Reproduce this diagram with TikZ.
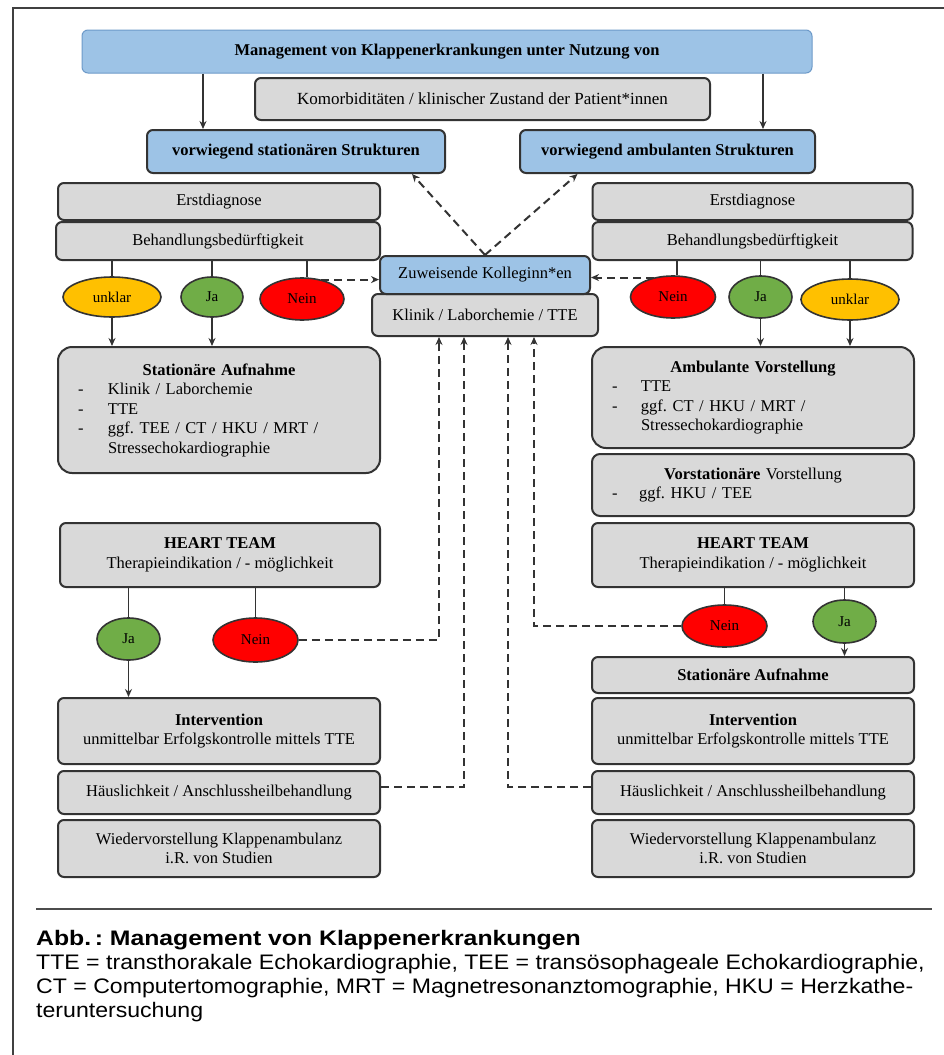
\documentclass[tikz,border=0pt]{standalone}
\usepackage{fontspec}
\setmainfont{Liberation Serif}
\newfontfamily\capfont[FakeStretch=1.1]{Liberation Sans}
\newfontfamily\capbold[FakeStretch=1.18]{Liberation Sans Bold}
\usetikzlibrary{shapes.geometric,arrows.meta}
\frenchspacing

\definecolor{boxgray}{HTML}{D9D9D9}
\definecolor{boxblue}{HTML}{9DC3E6}
\definecolor{ttlblue}{HTML}{6D9AC9}
\definecolor{linegray}{HTML}{333333}
\definecolor{ovyellow}{HTML}{FFC000}
\definecolor{ovgreen}{HTML}{70AD47}
\definecolor{ovred}{HTML}{FF0000}

\tikzset{
  gbox/.style={draw=linegray, line width=2pt, fill=boxgray, rounded corners=6pt,
    inner sep=0pt, align=center, font=\fontsize{16.5}{19.5}\selectfont},
  bbox/.style={gbox, fill=boxblue},
  lbox/.style={gbox, rounded corners=14pt, align=left, inner xsep=20pt, text width=282pt},
  oval/.style={ellipse, draw=linegray, line width=1.6pt, inner sep=0pt,
    font=\fontsize{15}{17}\selectfont},
  arr/.style={-{Stealth[length=8pt,width=7pt]}, line width=1.7pt, draw=linegray},
  dasharr/.style={arr, line width=2pt, dash pattern=on 8pt off 5pt},
  link/.style={line width=1.7pt, draw=linegray},
}

\begin{document}
\begin{tikzpicture}[x=1pt,y=-1pt]
\fill[white] (0,0) rectangle (944,1055);
\useasboundingbox (0,0) rectangle (944,1055);
\draw[line width=1.8pt, black!75] (13,1055) -- (13,8) -- (944,8);

% head
\node[bbox, draw=ttlblue, line width=1pt, minimum width=730, minimum height=43] (top) at (447,51.5)
  {\textbf{Management von Klappenerkrankungen unter Nutzung von}};
\node[gbox, minimum width=455, minimum height=42, font=\fontsize{17}{19.5}\selectfont] (komo) at (482.5,99)
  {Komorbiditäten / klinischer Zustand der Patient*innen};
\node[bbox, minimum width=298, minimum height=43] (stat) at (296,151.5)
  {\textbf{vorwiegend stationären Strukturen}};
\node[bbox, minimum width=295, minimum height=43] (amb) at (667.5,151.5)
  {\textbf{vorwiegend ambulanten Strukturen}};

% middle
\node[gbox, minimum width=226, minimum height=42] (klin) at (485,315) {Klinik / Laborchemie / TTE};
\node[bbox, minimum width=210, minimum height=38] (zuw) at (485,275) {Zuweisende Kolleginn*en};

% left column
\node[gbox, minimum width=322, minimum height=37] (erstL) at (219,201.5) {Erstdiagnose};
\node[gbox, minimum width=324, minimum height=38] (behL) at (218,241) {Behandlungsbedürftigkeit};
\node[oval, fill=ovyellow, minimum width=98, minimum height=40] (unklarL) at (112,297) {unklar};
\node[oval, fill=ovgreen, minimum width=62, minimum height=40] (jaL) at (212,297) {Ja};
\node[oval, fill=ovred, minimum width=84, minimum height=42] (neinL) at (302,299) {Nein};
\node[lbox, minimum height=126] (aufL) at (219,410)
  {\makebox[282pt]{\textbf{Stationäre Aufnahme}}\\
   \makebox[30pt][l]{-}Klinik / Laborchemie\\
   \makebox[30pt][l]{-}TTE\\
   \makebox[30pt][l]{-}ggf. TEE / CT / HKU / MRT /\\
   \hspace*{30pt}Stressechokardiographie};
\node[gbox, minimum width=320, minimum height=64] (htL) at (220,555)
  {\textbf{HEART TEAM}\\Therapieindikation / - möglichkeit};
\node[oval, fill=ovgreen, minimum width=63, minimum height=42] (jaL2) at (128.5,639) {Ja};
\node[oval, fill=ovred, minimum width=85, minimum height=44] (neinL2) at (255.5,640) {Nein};
\node[gbox, minimum width=322, minimum height=66] (intL) at (219,731)
  {\textbf{Intervention}\\unmittelbar Erfolgskontrolle mittels TTE};
\node[gbox, minimum width=322, minimum height=43] (hausL) at (219,792.5)
  {Häuslichkeit / Anschlussheilbehandlung};
\node[gbox, minimum width=322, minimum height=57] (wiedL) at (219,848.5)
  {Wiedervorstellung Klappenambulanz\\i.R. von Studien};

% right column
\node[gbox, minimum width=320, minimum height=37] (erstR) at (752.5,201.5) {Erstdiagnose};
\node[gbox, minimum width=320, minimum height=38] (behR) at (752.5,241) {Behandlungsbedürftigkeit};
\node[oval, fill=ovred, minimum width=85, minimum height=42] (neinR) at (673,297) {Nein};
\node[oval, fill=ovgreen, minimum width=63, minimum height=42] (jaR) at (760.5,297) {Ja};
\node[oval, fill=ovyellow, minimum width=98, minimum height=41] (unklarR) at (850,299.5) {unklar};
\node[lbox, minimum height=101] (ambV) at (753,397.5)
  {\makebox[282pt]{\textbf{Ambulante Vorstellung}}\\
   \makebox[29pt][l]{-}TTE\\
   \makebox[29pt][l]{-}ggf. CT / HKU / MRT /\\
   \hspace*{29pt}Stressechokardiographie};
\node[lbox, rounded corners=8pt, minimum height=62] (vorst) at (753,485)
  {\makebox[282pt]{\textbf{Vorstationäre} Vorstellung}\\
   \makebox[27pt][l]{-}ggf. HKU / TEE};
\node[gbox, minimum width=322, minimum height=64] (htR) at (753,555)
  {\textbf{HEART TEAM}\\Therapieindikation / - möglichkeit};
\node[oval, fill=ovred, minimum width=85, minimum height=42] (neinR2) at (724.5,626) {Nein};
\node[oval, fill=ovgreen, minimum width=63, minimum height=43] (jaR2) at (844.5,621.5) {Ja};
\node[gbox, minimum width=322, minimum height=36] (aufR) at (753,675) {\textbf{Stationäre Aufnahme}};
\node[gbox, minimum width=322, minimum height=66] (intR) at (753,731)
  {\textbf{Intervention}\\unmittelbar Erfolgskontrolle mittels TTE};
\node[gbox, minimum width=322, minimum height=43] (hausR) at (753,792.5)
  {Häuslichkeit / Anschlussheilbehandlung};
\node[gbox, minimum width=322, minimum height=57] (wiedR) at (753,848.5)
  {Wiedervorstellung Klappenambulanz\\i.R. von Studien};

% solid connectors
\draw[arr] ([xshift=-244pt]top.south) -- ([xshift=-244pt]top.south |- stat.north);
\draw[arr] ([xshift=316pt]top.south) -- ([xshift=316pt]top.south |- amb.north);
\draw[link] ([xshift=5pt]neinL.north) -- ([xshift=5pt]neinL.north |- behL.south);
\foreach \n in {unklarL,jaL} {
  \draw[link] (\n.north) -- (\n.north |- behL.south);
  \draw[arr] (\n.south) -- (\n.south |- aufL.north);
}
\draw[link] ([xshift=4pt]neinR.north) -- ([xshift=4pt]neinR.north |- behR.south);
\foreach \n in {jaR,unklarR} {
  \draw[link] (\n.north) -- (\n.north |- behR.south);
  \draw[arr] (\n.south) -- (\n.south |- ambV.north);
}
\draw[link] (jaL2.north) -- (jaL2.north |- htL.south);
\draw[link] (neinL2.north) -- (neinL2.north |- htL.south);
\draw[arr] (jaL2.south) -- (jaL2.south |- intL.north);
\draw[link] (neinR2.north) -- (neinR2.north |- htR.south);
\draw[link] (jaR2.north) -- (jaR2.north |- htR.south);
\draw[arr] (jaR2.south) -- (jaR2.south |- aufR.north);

% dashed connectors
\draw[dasharr] (zuw.north) -- ([xshift=116pt]stat.south);
\draw[dasharr] (zuw.north) -- ([xshift=-90pt]amb.south);
\draw[dasharr] (neinL.45) -- (neinL.45 -| zuw.west);
\draw[dasharr] (neinR.135) -- (neinR.135 -| zuw.east);
\draw[dasharr] (neinL2.east) -| ([xshift=-46pt]klin.south);
\draw[dasharr] ([yshift=6pt]hausL.east) -| ([xshift=-21pt]klin.south);
\draw[dasharr] ([yshift=6pt]hausR.west) -| ([xshift=23pt]klin.south);
\draw[dasharr] (neinR2.west) -| ([xshift=49pt]klin.south);

% caption
\draw[line width=1.5pt, black!70] (36,909) -- (932,909);
\node[anchor=base west, inner sep=0pt, font=\capbold\fontsize{21}{24}\selectfont] (abb) at (36,945)
  {Abb.\,: Management von Klappenerkrankungen};
\node[anchor=base west, inner sep=0pt, font=\capfont\fontsize{21}{24}\selectfont] (leg1) at (36,969)
  {TTE = transthorakale Echokardiographie, TEE = transösophageale Echokardiographie,};
\node[anchor=base west, inner sep=0pt, font=\capfont\fontsize{21}{24}\selectfont] (leg2) at (36,993)
  {CT = Computertomographie, MRT = Magnetresonanztomographie, HKU = Herzkathe-};
\node[anchor=base west, inner sep=0pt, font=\capfont\fontsize{21}{24}\selectfont] (leg3) at (36,1017)
  {teruntersuchung};
\end{tikzpicture}
\end{document}
